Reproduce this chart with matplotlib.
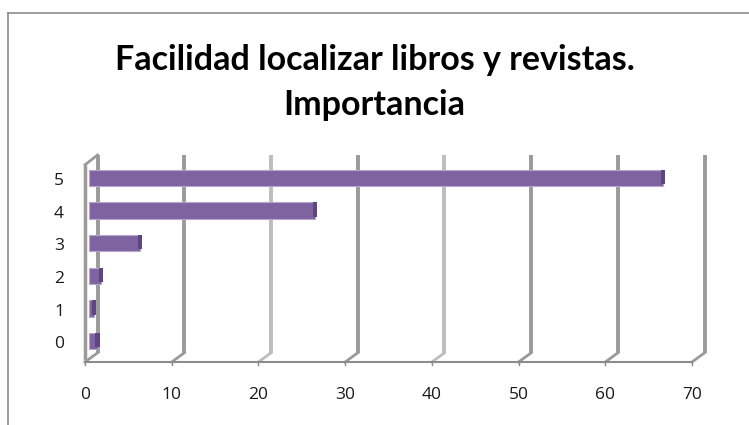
import matplotlib.pyplot as plt
from matplotlib.lines import Line2D

# Data
categories = ['0', '1', '2', '3', '4', '5']
values = [1.0, 0.6, 1.4, 5.9, 26.1, 66.2]
xticks = [0, 10, 20, 30, 40, 50, 60, 70]
title_lines = ['Facilidad localizar libros y revistas.', 'Importancia']

W, H = 749, 425
fig = plt.figure(figsize=(W / 100, H / 100), dpi=100)

# outer chart frame (runs off the right and bottom edges)
fig.add_artist(Line2D([8 / W, 1], [1 - 13 / H, 1 - 13 / H], transform=fig.transFigure,
                      color='#8c8c8c', lw=1.2))
fig.add_artist(Line2D([8 / W, 8 / W], [0, 1 - 13 / H], transform=fig.transFigure,
                      color='#8c8c8c', lw=1.2))

for k, line in enumerate(title_lines):
    fig.text(0.5, 1 - (60 + 45 * k) / H, line, ha='center', va='center',
             fontsize=24.5, fontweight='bold', family='Lato', color='#000000')

ax = fig.add_axes([85 / W, 1 - 362 / H, 607 / W, 207 / H])
ymin, ymax = -0.64, 5.7
ax.set_xlim(0, 70)
ax.set_ylim(ymin, ymax)
for s in ax.spines.values():
    s.set_visible(False)
ax.set_xticks([])
ax.set_yticks([])

# 3D depth offsets (in data units)
dx, dy = 1.45, 0.28
grid_col = '#9a9a9a'

# back wall gridlines with floor diagonals
for t in xticks:
    col = grid_col if t not in (20, 40) else '#bdbdbd'
    if t == 0:
        ax.plot([t, t], [ymin + 0.05, ymax - dy - 0.02], color=grid_col, lw=2.5,
                solid_capstyle='butt', clip_on=False)
        ax.plot([t, t + dx], [ymax - dy - 0.02, ymax], color=grid_col, lw=2.0, clip_on=False)
    ax.plot([t + dx, t + dx], [ymin + dy, ymax], color=col, lw=2.8,
            solid_capstyle='butt', clip_on=False)
    ax.plot([t, t + dx], [ymin, ymin + dy], color=col, lw=2.0, clip_on=False)
    ax.plot([t, t], [ymin, ymin - 0.09], color='#8c8c8c', lw=1.0, clip_on=False)
    ax.text(t, ymin - 1.0, str(t), ha='center', va='center', fontsize=12.5,
            family='Open Sans', color='#1a1a1a')

# floor front edge
ax.plot([0, 70], [ymin, ymin], color='#8c8c8c', lw=1.5, clip_on=False)

# bars with a darker end cap
bx = 0.45
cap = 0.5
for i, (c, v) in enumerate(zip(categories, values)):
    ax.barh(i, v, left=bx, height=0.5, color='#7f63a1', edgecolor='#b6a6cc',
            linewidth=0.8, zorder=3)
    ax.barh(i + 0.03, cap, left=bx + v - cap * 0.5, height=0.44, color='#5e477c',
            linewidth=0, zorder=4)
    ax.text(-3.0, i - 0.1, c, ha='center', va='center', fontsize=12.5,
            family='Open Sans', color='#1a1a1a')

fig.savefig('out.png', dpi=100)
